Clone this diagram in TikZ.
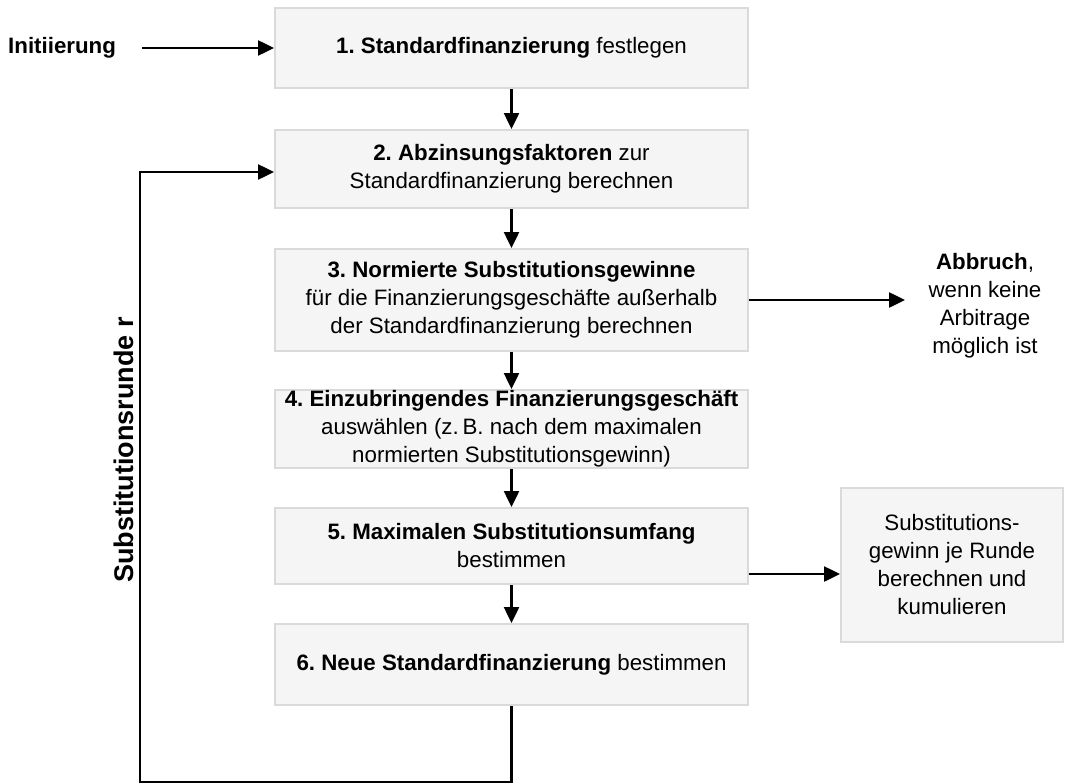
\documentclass[tikz,border=0pt]{standalone}
\usepackage{fontspec}
\setmainfont{Liberation Sans}
\usetikzlibrary{arrows.meta}
\definecolor{boxfill}{HTML}{F5F5F5}
\definecolor{boxline}{HTML}{DADADA}
\frenchspacing
\begin{document}
\begin{tikzpicture}[x=1pt,y=-1pt,
  stepbox/.style={draw=boxline,fill=boxfill,line width=2pt,minimum width=473pt,
    align=center,inner sep=0pt,font=\fontsize{22.3}{28}\selectfont},
  sidebox/.style={stepbox,minimum width=222pt,minimum height=154pt},
  plain/.style={align=center,inner sep=0pt,font=\fontsize{22.3}{28}\selectfont},
  flow/.style={line width=2.5pt,-{Triangle[length=16pt,width=15pt]}},
  ]
\useasboundingbox (0,0) rectangle (1065,784);
\node[stepbox,minimum height=80pt] (s1) at (511.5,48) {\textbf{1. Standardfinanzierung} festlegen};
\node[stepbox,minimum height=78pt] (s2) at (511.5,169) {\textbf{2. Abzinsungsfaktoren} zur\\Standardfinanzierung berechnen};
\node[stepbox,minimum height=102pt] (s3) at (511.5,300) {\textbf{3. Normierte Substitutionsgewinne}\\f\"ur die Finanzierungsgesch\"afte au\ss erhalb\\der Standardfinanzierung berechnen};
\node[stepbox,minimum height=78pt] (s4) at (511.5,429) {\textbf{4. Einzubringendes Finanzierungsgesch\"aft}\\ausw\"ahlen (z.\,B. nach dem maximalen\\normierten Substitutionsgewinn)};
\node[stepbox,minimum height=76pt] (s5) at (511.5,546) {\textbf{5. Maximalen Substitutionsumfang}\\bestimmen};
\node[stepbox,minimum height=81pt] (s6) at (511.5,664.5) {\textbf{6. Neue Standardfinanzierung} bestimmen};
\node[sidebox] (gain) at (952,565) {Substitutions-\\gewinn je Runde\\berechnen und\\kumulieren};
\node[plain,anchor=west] (init) at (8,48) {\textbf{Initiierung}};
\node[plain] (stop) at (985,306) {\textbf{Abbruch},\\wenn keine\\Arbitrage\\m\"oglich ist};
\node[plain,rotate=90,font=\fontsize{27}{30}\selectfont] (round) at (124,450) {\textbf{Substitutionsrunde r}};
\coordinate (initend) at (142,48);
\coordinate (stopend) at (905,300);
\coordinate (loopa) at (511.5,782);
\coordinate (loopb) at (140,782);
\coordinate (loopc) at (140,172);

\draw[flow] (initend) -- (s1.west |- initend);
\draw[flow] (s1) -- (s2);
\draw[flow] (s2) -- (s3);
\draw[flow] (s3) -- (s4);
\draw[flow] (s4) -- (s5);
\draw[flow] (s5) -- (s6);
\draw[flow] (s3.east |- stopend) -- (stopend);
\draw[flow] (s5.east |- 0,574) -- (gain.west |- 0,574);
\draw[flow] (s6.south) -- (loopa) -- (loopb) -- (loopc) -- (s2.west |- loopc);
\end{tikzpicture}
\end{document}
